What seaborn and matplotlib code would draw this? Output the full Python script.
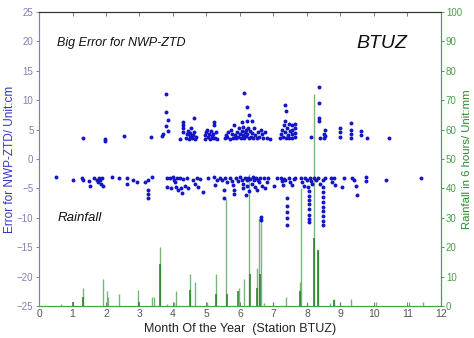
import matplotlib
matplotlib.use("Agg")
import matplotlib.pyplot as plt
import seaborn as sns
import pandas as pd

# ---------------- data ----------------
pos_month = [1.30, 1.96, 1.96, 2.54, 3.34, 3.66, 3.70,
             3.78, 3.78, 3.86, 3.78, 3.84,
             4.21, 4.29, 4.29, 4.29, 4.29,
             4.40, 4.42, 4.45, 4.47, 4.50, 4.52, 4.55, 4.57, 4.60, 4.62, 4.63, 4.66, 4.70,
             4.95, 4.97, 5.00, 5.02, 5.05, 5.08, 5.10, 5.12, 5.15, 5.18, 5.20, 5.22, 5.22, 5.25, 5.28, 5.30,
             5.55, 5.58, 5.62, 5.65, 5.70, 5.72, 5.75, 5.78, 5.82, 5.85, 5.88,
             5.92, 5.95, 5.98, 6.00, 6.02, 6.05, 6.07, 6.08, 6.10, 6.12, 6.13, 6.15, 6.17, 6.18, 6.20,
             6.22, 6.22, 6.25, 6.27, 6.28, 6.30, 6.32, 6.35, 6.37, 6.40, 6.43, 6.45,
             6.52, 6.55, 6.58, 6.62, 6.65, 6.70, 6.75, 6.80, 6.90,
             7.18, 7.22, 7.25, 7.27, 7.30, 7.33, 7.33, 7.35, 7.37, 7.38, 7.40, 7.42, 7.45, 7.47, 7.50,
             7.55, 7.55, 7.55, 7.55, 7.63, 7.63, 7.63, 7.63,
             8.12, 8.35, 8.35, 8.35, 8.35, 8.40, 8.50, 8.52, 8.55, 8.55,
             9.00, 9.00, 9.00, 9.32, 9.32, 9.32, 9.32, 9.62, 9.62, 9.80, 10.44]
pos_err = [3.5, 3.4, 3.1, 3.9, 3.8, 3.9, 4.2,
           11.1, 8.0, 6.7, 5.6, 4.8,
           3.4, 6.2, 5.8, 5.3, 4.5,
           3.6, 4.2, 4.8, 3.4, 3.9, 4.4, 5.2, 3.6, 4.0, 6.9, 4.5, 3.4, 3.8,
           3.4, 4.0, 4.6, 5.0, 3.7, 4.3, 3.4, 4.8, 3.9, 3.5, 4.2, 6.3, 5.8, 3.6, 4.5, 3.4,
           3.5, 4.1, 3.7, 4.6, 3.4, 5.0, 4.3, 3.6, 5.8, 4.0, 3.5,
           4.5, 3.8, 5.2, 4.2, 3.5, 4.8, 6.2, 4.0, 5.5, 3.6, 11.3, 4.6, 5.0, 3.9, 6.5,
           8.8, 4.3, 5.3, 3.5, 7.4, 4.8, 3.8, 6.5, 4.4, 3.6, 5.2, 4.0,
           3.5, 4.5, 3.8, 5.0, 4.2, 3.6, 4.6, 3.5, 3.4,
           3.5, 4.2, 5.0, 3.8, 5.8, 9.2, 6.5, 4.5, 8.1, 3.6, 5.3, 4.0, 6.0, 3.5, 4.8,
           3.5, 4.2, 5.0, 5.8, 3.7, 4.4, 5.2, 6.0,
           3.8, 12.3, 9.6, 7.0, 6.4, 3.6, 3.5, 4.3, 5.0, 3.9,
           3.8, 4.5, 5.2, 3.5, 4.2, 4.9, 6.1, 4.1, 4.7, 3.5, 3.6]

neg_month = [0.52, 1.00, 1.27, 1.32, 1.50, 1.52, 1.65, 1.72, 1.75, 1.78, 1.82, 1.85, 1.88, 1.92,
             2.17, 2.40, 2.64, 2.64, 2.82, 2.92, 3.17, 3.26, 3.26, 3.26, 3.26, 3.36,
             3.81, 3.81, 3.91, 3.95, 4.01, 4.03, 4.05, 4.08, 4.11, 4.15, 4.21, 4.25, 4.28, 4.31, 4.35, 4.41, 4.45,
             4.61, 4.66, 4.71, 4.75, 4.81, 4.91, 5.05,
             5.21, 5.25, 5.30, 5.41, 5.45, 5.51, 5.51, 5.55, 5.60,
             5.71, 5.75, 5.78, 5.81, 5.81, 5.88, 5.95,
             6.01, 6.05, 6.08, 6.10, 6.15, 6.18, 6.21, 6.21, 6.25, 6.28, 6.31, 6.35, 6.38, 6.41, 6.45,
             6.48, 6.51, 6.55, 6.58, 6.61, 6.63, 6.63, 6.65, 6.71, 6.75, 6.81, 6.85,
             7.02, 7.11, 7.21, 7.25, 7.28, 7.31, 7.35, 7.41, 7.41, 7.41, 7.41, 7.41, 7.45, 7.50, 7.55, 7.60, 7.65,
             7.81, 7.85, 7.90, 7.95, 8.01, 8.03, 8.06, 8.06, 8.06, 8.06, 8.06, 8.06, 8.06, 8.06,
             8.10, 8.13, 8.16, 8.21, 8.28, 8.33, 8.38,
             8.49, 8.49, 8.49, 8.49, 8.49, 8.49, 8.49, 8.49, 8.49, 8.49, 8.55,
             8.71, 8.75, 8.81, 8.85, 9.05, 9.10, 9.35, 9.40, 9.45, 9.50, 9.75, 9.75, 10.37, 11.40]
neg_err = [-3.1, -3.5, -3.2, -3.6, -3.8, -4.6, -3.3, -3.6, -4.0, -3.2, -3.5, -4.3, -3.3, -4.6,
           -3.1, -3.3, -3.3, -4.2, -3.5, -4.0, -4.0, -3.6, -5.3, -6.0, -6.7, -3.1,
           -3.2, -4.8, -3.3, -5.0, -3.1, -3.6, -4.0, -4.8, -3.3, -5.3, -3.2, -5.0, -5.8, -3.4, -4.6, -3.2, -4.9,
           -3.6, -4.3, -3.2, -4.8, -3.4, -5.6, -3.3,
           -3.1, -4.5, -3.5, -3.2, -3.6, -5.3, -6.7, -3.2, -4.0,
           -3.2, -3.7, -4.5, -5.2, -6.0, -3.3, -3.8,
           -3.1, -3.5, -4.2, -5.0, -3.3, -6.2, -3.6, -4.6, -3.2, -5.5, -3.4, -4.2, -3.1, -3.6, -4.8,
           -3.3, -5.2, -3.5, -4.0, -3.2, -9.8, -10.4, -4.6, -3.3, -5.0, -4.0, -3.2,
           -4.6, -3.3, -3.2, -3.8, -4.5, -3.4, -3.6, -6.7, -8.0, -9.0, -10.0, -11.3, -3.2, -3.9, -4.4, -3.4, -3.2,
           -3.3, -4.0, -4.6, -3.2, -3.5, -4.8, -5.5, -6.3, -7.0, -7.7, -8.5, -9.5, -10.2, -10.8,
           -3.2, -3.7, -4.2, -3.3, -3.6, -3.2, -4.2,
           -3.5, -4.8, -5.7, -6.5, -7.3, -8.1, -8.9, -9.7, -10.5, -11.3, -3.2,
           -3.3, -3.9, -3.3, -4.5, -4.8, -3.3, -3.2, -3.6, -4.6, -6.2, -3.1, -3.8, -3.5, -3.3]

rain_month = [0.65, 1.00, 1.32, 1.92, 2.02, 2.07, 2.40, 2.96, 3.37, 3.42, 3.62, 3.82,
              4.02, 4.09, 4.50, 4.66, 5.02, 5.27, 5.57, 5.97, 6.13, 6.28, 6.50, 6.58,
              6.62, 6.73, 7.00, 7.37, 7.78, 7.82, 8.00, 8.22, 8.32, 8.70, 8.80, 9.00,
              9.32, 10.07, 11.04, 11.45]
rain_mm = [0.8, 1.5, 6.1, 9.3, 5.2, 3.0, 4.0, 5.3, 3.0, 3.0, 20.0, 0.8,
           1.4, 5.2, 11.0, 8.0, 1.4, 11.0, 36.5, 6.0, 9.3, 45.0, 13.0, 30.0,
           30.0, 1.0, 1.5, 3.0, 8.0, 40.0, 1.0, 72.0, 19.0, 1.0, 2.5, 1.5,
           2.3, 1.2, 1.2, 1.5]

rain2_month = [1.00, 1.30, 3.00, 3.62, 4.50, 5.27, 5.60, 5.95, 6.30, 6.50, 6.60, 7.78, 8.22, 8.32, 8.80]
rain2_mm = [1.5, 3.0, 1.4, 14.3, 5.3, 4.0, 4.0, 5.0, 11.0, 6.0, 11.0, 5.0, 23.0, 19.0, 2.0]

x_ticks = list(range(0, 13))
left_ticks = [25, 20, 15, 10, 5, 0, -5, -10, -15, -20, -25]
right_ticks = [0, 10, 20, 30, 40, 50, 60, 70, 80, 90, 100]

# ---------------- plot ----------------
sns.set_style("white")
plt.rcParams['font.family'] = ['Liberation Sans', 'DejaVu Sans']

err = pd.DataFrame({"month": pos_month + neg_month, "err": pos_err + neg_err})

fig = plt.figure(figsize=(4.74, 3.38), dpi=100)
ax = fig.add_axes([0.0823, 0.0947, 0.848, 0.870])
ax2 = ax.twinx()

# rainfall on right axis
ax2.vlines(rain_month, 0, rain_mm, color="#6ab06a", linewidth=1.0, alpha=0.9)
ax2.vlines(rain2_month, 0, rain2_mm, color="#1f7f1f", linewidth=1.1)
ax2.set_ylim(0, 100)
ax2.set_yticks(right_ticks)

sns.scatterplot(data=err, x="month", y="err", ax=ax, color="#1515c8",
                s=8, linewidth=0, marker="o", zorder=5)
ax.set_zorder(ax2.get_zorder() + 1)
ax.patch.set_visible(False)

ax.set_xlim(0, 12)
ax.set_ylim(-25, 25)
ax.set_xticks(x_ticks)
ax.set_yticks(left_ticks)

lblue = "#8080b8"
green = "#4a9f4a"
ax.tick_params(axis="y", colors=lblue, labelsize=7, direction="out", length=2.5, width=0.7, pad=1.5)
ax.tick_params(axis="x", colors="#777777", labelsize=7.5, direction="in", length=3, width=0.7,
               top=True, bottom=True, pad=2)
for lab in ax.get_xticklabels():
    lab.set_color("#555555")
ax2.tick_params(axis="y", colors=green, labelsize=7, direction="out", length=2.5, width=0.7, pad=1)

ax.spines["top"].set_color("#333333")
ax2.spines["top"].set_color("#333333")
ax.spines["left"].set_color(lblue)
ax2.spines["left"].set_color(lblue)
ax2.spines["right"].set_color(green)
ax.spines["right"].set_color(green)
ax.spines["bottom"].set_color(green)
ax2.spines["bottom"].set_color(green)
for a in (ax, ax2):
    for sp in a.spines.values():
        sp.set_linewidth(0.8)

ax.set_ylabel("Error for NWP-ZTD/ Unit:cm", color="#3434c8", fontsize=8.5, labelpad=1)
ax2.set_ylabel("Rainfall in 6 hours/ Unit:mm", color="#2a8a2a", fontsize=8.2, labelpad=0)
ax.set_xlabel("Month Of the Year  (Station BTUZ)", color="#222222", fontsize=9, labelpad=3)

ax.text(0.045, 0.895, "Big Error for NWP-ZTD", transform=ax.transAxes, fontsize=9,
        style="italic", color="#111111", va="center")
ax.text(0.79, 0.893, "BTUZ", transform=ax.transAxes, fontsize=14,
        style="italic", color="#111111", va="center")
ax.text(0.045, 0.30, "Rainfall", transform=ax.transAxes, fontsize=9.5,
        style="italic", color="#111111", va="center")

fig.savefig("out.png", dpi=100)
